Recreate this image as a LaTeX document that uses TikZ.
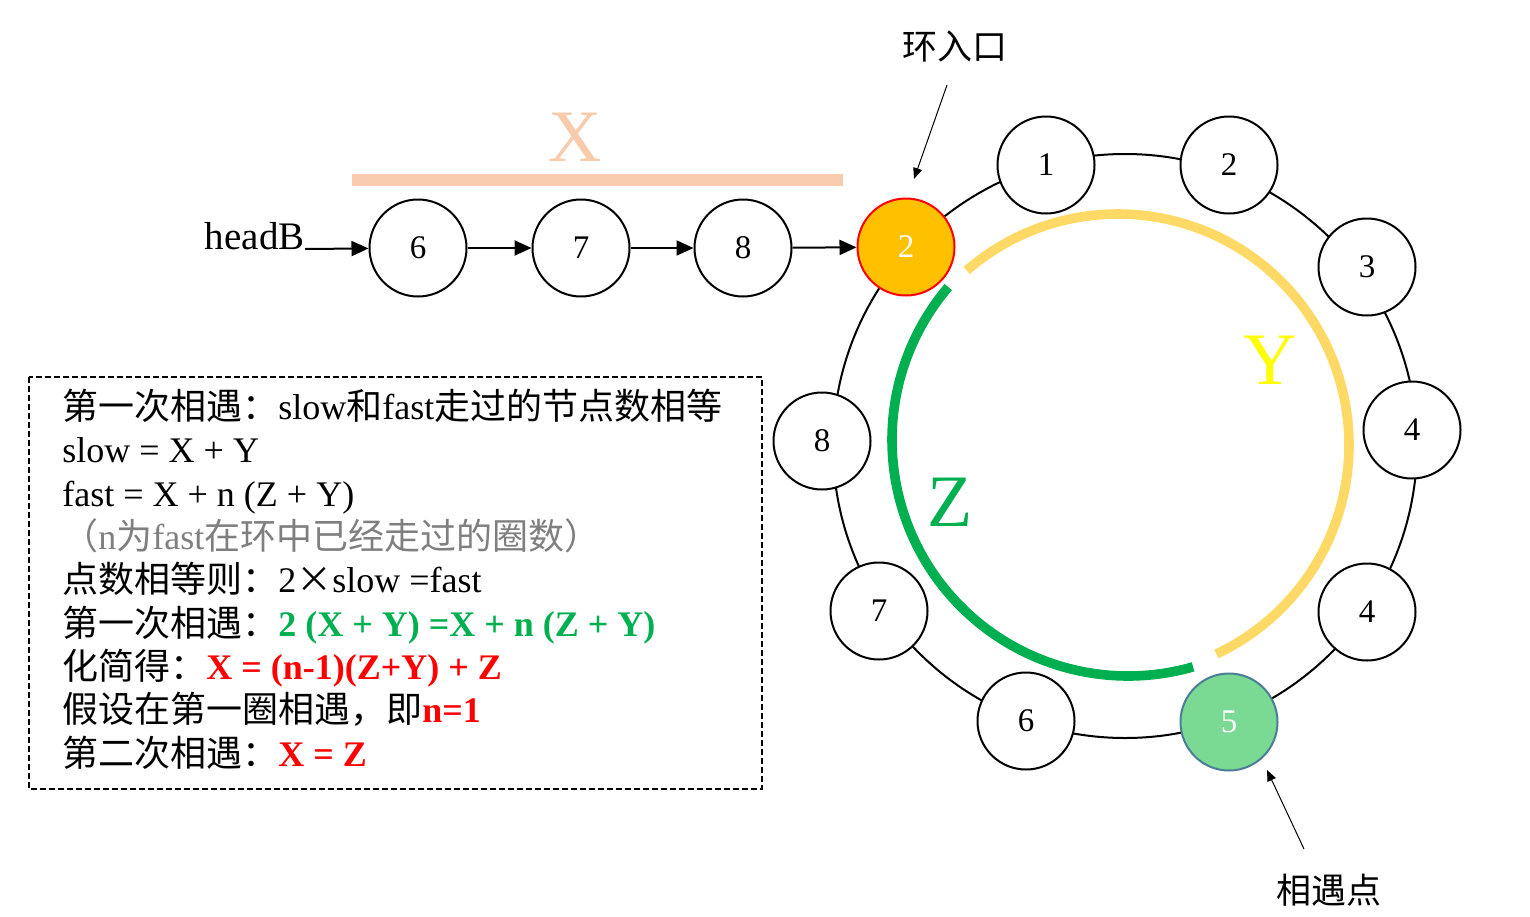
\documentclass[tikz,border=0pt]{standalone}
\usepackage{fontspec}
\setmainfont{Liberation Serif}
\newfontfamily\cjk{Noto Sans CJK SC}
\newcommand{\zh}[1]{{\cjk #1}}
\usetikzlibrary{arrows.meta}
\definecolor{xpeach}{HTML}{F8CBAD}
\definecolor{yarc}{HTML}{FFD966}
\definecolor{ylabel}{HTML}{FFFF00}
\definecolor{zgreen}{HTML}{00B050}
\definecolor{entfill}{HTML}{FFC000}
\definecolor{meetfill}{HTML}{7AD993}
\definecolor{meetdraw}{HTML}{4A7E97}
\definecolor{txtgray}{HTML}{7F7F7F}
\definecolor{txtred}{HTML}{FF0000}

\begin{document}
\begin{tikzpicture}[x=0.5pt, y=-0.5pt,
		elem/.style={circle, draw, line width=1pt, minimum size=48.5pt, inner sep=0pt, fill=white, font=\fontsize{16.5}{16.5}\selectfont},
		link/.style={-{Triangle[length=8.5pt, width=7.5pt]}, line width=1pt},
		note/.style={-{Triangle[length=5.5pt, width=4.5pt]}, line width=0.5pt},
		txtline/.style={anchor=base west, inner sep=0pt, font=\fontsize{18}{18}\selectfont},
		biglbl/.style={inner sep=0pt, font=\fontsize{37}{37}\selectfont}]
		\useasboundingbox (0,0) rectangle (1530,916);
		% ring and the two stretches Y and Z
		\draw [line width=1pt] (1125,446) circle [radius=292];
		\draw [yarc, line width=4.8pt, shift={(1118,445)}] (-130.9:231) arc [start angle=-130.9, end angle=64.8, radius=231];
		\draw [zgreen, line width=4.8pt, shift={(1128,440)}] (-139.6:236) arc [start angle=-139.6, end angle=-286, radius=236];
		% list before the ring
		\node [biglbl, font=\fontsize{19.5}{19.5}\selectfont, anchor=base east] (headB) at (305,249) {headB};
		\node [elem] (n6) at (418,248) {6};
		\node [elem] (n7) at (581,248) {7};
		\node [elem] (n8) at (743,248) {8};
		\node [elem, fill=entfill, draw=red, text=white] (ent) at (906,247) {2};
		\draw [link] (headB.base east) -- (n6);
		\draw [link] (n6) -- (n7);
		\draw [link] (n7) -- (n8);
		\draw [link] (n8) -- (ent);
		% nodes on the ring
		\foreach \x/\y/\t/\nm in {1046/165/1/r1, 1229/165/2/r2, 1367/267/3/r3, 1412/430/4/r4, 1367/612/4/r5, 1026/721/6/r7, 879/611/7/r8, 822/441/8/r9}
			\node [elem] (\nm) at (\x,\y) {\t};
		\node [elem, fill=meetfill, draw=meetdraw, text=white] (meet) at (1229,722) {5};
		% X, Y, Z
		\draw [xpeach, line width=6pt] (352,180) -- (843,180);
		\node [biglbl, text=xpeach] (xlbl) at (575,137) {X};
		\node [biglbl, text=ylabel] (ylbl) at (1270,360) {Y};
		\node [biglbl, text=zgreen] (zlbl) at (950,502) {Z};
		% pointers
		\node [font=\cjk\fontsize{17.5}{17.5}\selectfont] (entlbl) at (955,47) {环入口};
		\node [font=\cjk\fontsize{17.5}{17.5}\selectfont] (meetlbl) at (1329,890) {相遇点};
		\coordinate (entTail) at (947,85);
		\coordinate (entTip) at (914,179);
		\coordinate (meetTail) at (1304,849);
		\coordinate (meetTip) at (1267,770);
		\draw [note] (entTail) -- (entTip);
		\draw [note] (meetTail) -- (meetTip);
		% reasoning box
		\draw [line width=0.75pt, dash pattern=on 3pt off 1.5pt] (29,377) rectangle (762,789);
		\node [txtline] (l1) at (62,419) {\zh{第一次相遇：}slow\zh{和}fast\zh{走过的节点数相等}};
		\node [txtline] (l2) at (62,462.5) {slow = X + Y};
		\node [txtline] (l3) at (62,506) {fast = X + n (Z + Y)};
		\node [txtline, text=txtgray] (l4) at (62,549) {\zh{（}n\zh{为}fast\zh{在环中已经走过的圈数）}};
		\node [txtline] (l5) at (62,592.5) {\zh{点数相等则：}2\zh{×}slow =fast};
		\node [txtline] (l6) at (62,636) {\zh{第一次相遇：}{\bfseries\color{zgreen}2 (X + Y) =X + n (Z + Y)}};
		\node [txtline] (l7) at (62,679) {\zh{化简得：}{\bfseries\color{txtred}X = (n-1)(Z+Y) + Z}};
		\node [txtline] (l8) at (62,722.5) {\zh{假设在第一圈相遇，即}{\bfseries\color{txtred}n=1}};
		\node [txtline] (l9) at (62,766) {\zh{第二次相遇：}{\bfseries\color{txtred}X = Z}};
	\end{tikzpicture}
\end{document}
